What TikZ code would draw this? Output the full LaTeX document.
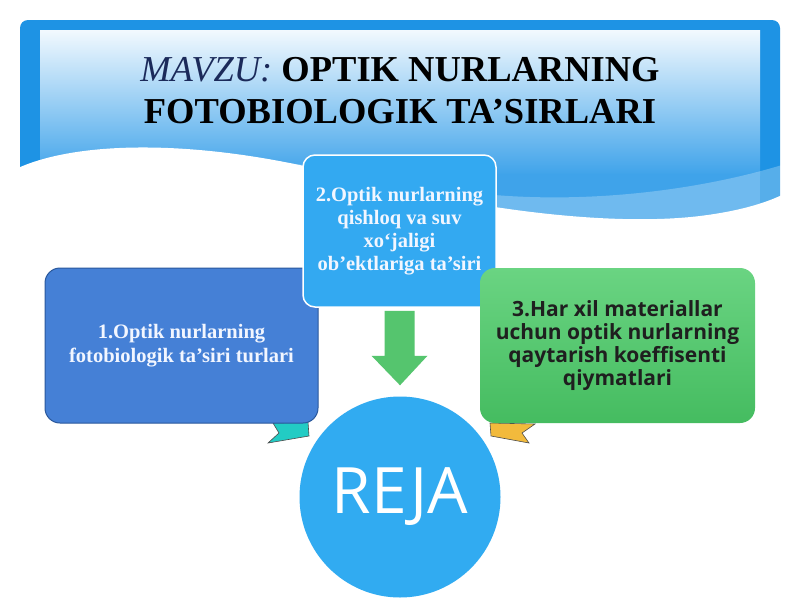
\documentclass[tikz,border=0pt]{standalone}
\usepackage{fontspec}
\setmainfont{Liberation Serif}
\newfontfamily\osans{Open Sans}
\usetikzlibrary{calc}
\definecolor{frameblue}{HTML}{1E93E4}
\definecolor{paneltop}{HTML}{F2F9FE}
\definecolor{panelbot}{HTML}{3FA3EA}
\definecolor{boxonefill}{HTML}{4580D6}
\definecolor{boxoneedge}{HTML}{2A589C}
\definecolor{boxtwofill}{HTML}{33A9F1}
\definecolor{greentop}{HTML}{6AD482}
\definecolor{greenbot}{HTML}{45BC60}
\definecolor{arrowgreen}{HTML}{55C56E}
\definecolor{tealtail}{HTML}{22CCC4}
\definecolor{goldtail}{HTML}{F2BA3C}
\definecolor{rejablue}{HTML}{31ABF1}
\definecolor{titlenavy}{HTML}{1B2A5A}
\definecolor{lighttext}{HTML}{F2F6FF}
\tikzset{
  boxone/.style={draw=boxoneedge, line width=1pt, fill=boxonefill, rounded corners=15pt,
    minimum width=273pt, minimum height=155pt, align=center, text=lighttext,
    font=\fontsize{20.5}{24}\selectfont\bfseries},
  boxtwo/.style={draw=white, line width=1.5pt, fill=boxtwofill, rounded corners=12pt,
    minimum width=193pt, minimum height=152pt, align=center, text=lighttext,
    font=\fontsize{20.5}{23}\selectfont\bfseries},
  boxthree/.style={top color=greentop, bottom color=greenbot, rounded corners=15pt,
    minimum width=275pt, minimum height=155pt, align=center, text=black!88,
    font=\osans\fontsize{21}{23}\selectfont\bfseries},
  rejacircle/.style={circle, fill=rejablue, minimum size=201pt, inner sep=0pt,
    text=white, font=\osans\fontsize{64}{64}\selectfont},
  tailline/.style={draw=black!70, line width=0.6pt, line join=miter},
  titlefont/.style={font=\fontsize{36.5}{42}\selectfont, align=center}
}
\begin{document}
\begin{tikzpicture}[x=1pt,y=-1pt]
\useasboundingbox (0,0) rectangle (800,600);
\fill[white] (0,0) rectangle (800,600);
% banner
\fill[frameblue, rounded corners=8pt] (20,20) rectangle (780,255);
\shade[top color=paneltop, bottom color=panelbot] (40,30) rectangle (760,175);
\fill[panelbot] (40,174) rectangle (760,255);
% lighter wave band
\fill[white, opacity=0.25] (20,175) .. controls (150,140) and (300,160) .. (420,185)
  .. controls (560,212) and (700,190) .. (782,165) -- (782,260) -- (18,260) -- cycle;
% white wave
\fill[white] (18,168) .. controls (80,140) and (200,140) .. (330,172)
  .. controls (450,205) and (600,228) .. (700,216)
  .. controls (740,211) and (765,203) .. (782,195) -- (782,262) -- (18,262) -- cycle;
% title
\node[titlefont] (title) at (400,91)
  {{\color{titlenavy}\itshape MAVZU:} \textbf{OPTIK NURLARNING}\\
   \textbf{FOTOBIOLOGIK TA’SIRLARI}};
% tails
\filldraw[tailline, fill=tealtail] (273,423) -- (308,422) -- (309,436) -- (268,443) -- (279,433) -- cycle;
\filldraw[tailline, fill=goldtail] (490,423) -- (535,424) -- (522,433) -- (529,443) -- (491,436) -- cycle;
% boxes
\node[boxone] (b1) at (181.5,345.5) {1.Optik nurlarning\\fotobiologik ta’siri turlari};
\node[boxtwo] (b2) at (399.5,231) {2.Optik nurlarning\\qishloq va suv\\xo‘jaligi\\ob’ektlariga ta’siri};
\node[boxthree] (b3) at (617.5,345.5) {3.Har xil materiallar\\uchun optik nurlarning\\qaytarish koeffisenti\\qiymatlari};
% circle
\node[rejacircle] (reja) at (400,497) {REJA};
% block arrow from b2 to reja
\fill[arrowgreen] ($(b2.south)+(-15,3)$) -- ($(b2.south)+(15,3)$) -- ($(b2.south)+(15,48)$)
  -- ($(b2.south)+(28,48)$) -- ($(reja.north)+(0,-11)$) -- ($(b2.south)+(-28,48)$)
  -- ($(b2.south)+(-15,48)$) -- cycle;
\end{tikzpicture}
\end{document}
